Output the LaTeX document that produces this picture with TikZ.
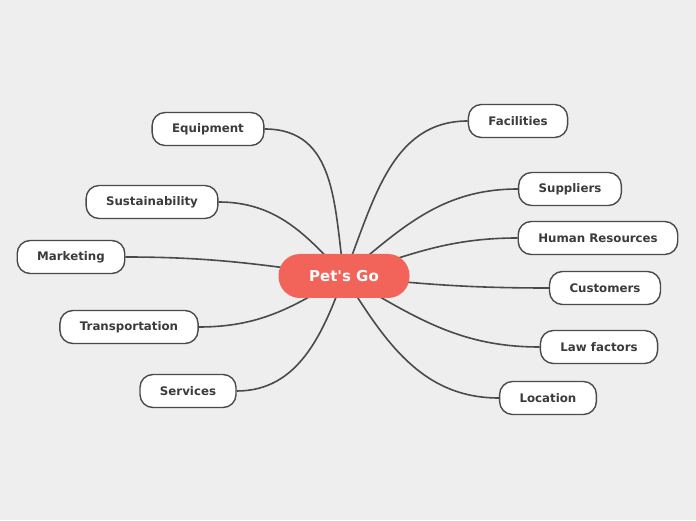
\documentclass[tikz,border=0pt]{standalone}
\usepackage{fontspec}
\setmainfont{DejaVu Sans}
\usetikzlibrary{backgrounds}

\definecolor{bgcolor}{HTML}{EEEEEE}
\definecolor{hubcolor}{HTML}{F2635A}
\definecolor{inkcolor}{HTML}{3B3B3B}
\definecolor{linecolor}{HTML}{4A4A4A}

\begin{document}
\begin{tikzpicture}[x=1pt, y=1pt,
    hubnode/.style={rectangle, rounded corners=21.5pt, fill=hubcolor, text=white, font=\fontsize{15}{18}\selectfont\bfseries, minimum width=131pt, minimum height=44pt},
    topicnode/.style={draw=linecolor, line width=1.4pt, fill=white, rounded corners=13pt, text=inkcolor, font=\fontsize{11.8}{14}\selectfont\bfseries, inner xsep=20pt, minimum height=33pt},
    branch/.style={draw=linecolor, line width=1.6pt},
]
    \useasboundingbox (0,0) rectangle (696,520);

    % Centre
    \node at (344, 244) [hubnode](hub){Pet\textquotesingle s Go};

    % Left side
    \node at (208, 391) [topicnode](equip){Equipment};
    \node at (152, 318) [topicnode](sustain){Sustainability};
    \node at (71, 263) [topicnode](market){Marketing};
    \node at (129, 193) [topicnode](transp){Transportation};
    \node at (188, 129) [topicnode](serv){Services};

    % Right side
    \node at (518, 399) [topicnode](facil){Facilities};
    \node at (570, 331) [topicnode](suppl){Suppliers};
    \node at (598, 282) [topicnode](human){Human Resources};
    \node at (605, 232) [topicnode](cust){Customers};
    \node at (599, 173) [topicnode](law){Law factors};
    \node at (548, 122) [topicnode](loc){Location};

    \begin{scope}[on background layer]
        \fill [bgcolor] (0,0) rectangle (696,520);
        % Branches
        \draw [branch] (hub.center) to[out=98, in=0, looseness=1.1] (equip.east);
        \draw [branch] (hub.center) to[out=132, in=0] (sustain.east);
        \draw [branch] (hub.center) to[out=172, in=0] (market.east);
        \draw [branch] (hub.center) to[out=212, in=0] (transp.east);
        \draw [branch] (hub.center) to[out=250, in=0] (serv.east);
        \draw [branch] (hub.center) to[out=68, in=180] (facil.west);
        \draw [branch] (hub.center) to[out=40, in=180] (suppl.west);
        \draw [branch] (hub.center) to[out=18, in=180] (human.west);
        \draw [branch] (hub.center) to[out=-6, in=180] (cust.west);
        \draw [branch] (hub.center) to[out=-30, in=180] (law.west);
        \draw [branch] (hub.center) to[out=-58, in=180] (loc.west);
    \end{scope}

\end{tikzpicture}
\end{document}
